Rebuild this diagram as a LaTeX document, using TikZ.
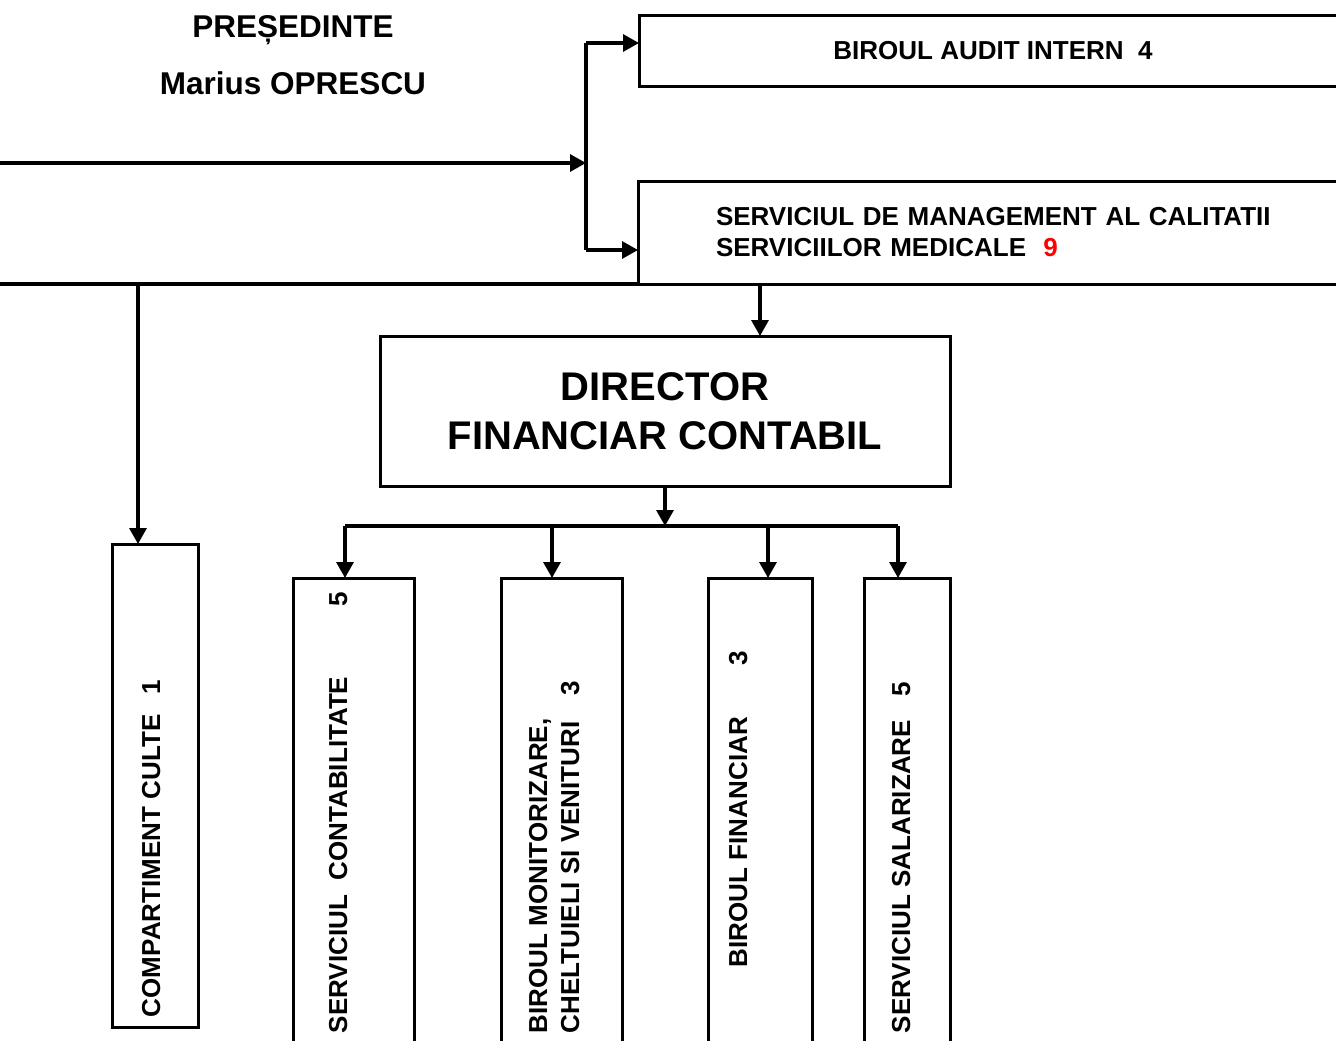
\documentclass[tikz,border=0pt]{standalone}
\usepackage{fontspec}
\setmainfont{Liberation Sans}
\usetikzlibrary{arrows.meta}
\begin{document}
\begin{tikzpicture}[x=1pt,y=-1pt,line width=3.2pt,
  box/.style={draw,line width=3pt,inner sep=0pt,outer sep=0pt,anchor=north west,font=\bfseries\fontsize{26}{31}\selectfont},
  arr/.style={-{Triangle[length=16pt,width=17pt]}},
  vlbl/.style={rotate=90,inner sep=0pt,outer sep=0pt,font=\bfseries\fontsize{26}{32}\selectfont,align=left}]
\useasboundingbox (0,0) rectangle (1336,1041);
\clip (0,0) rectangle (1336,1041);
% title
\node[font=\bfseries\fontsize{31.5}{57}\selectfont,align=center] (pres) at (293,55) {PREȘEDINTE\\Marius OPRESCU};
% top right boxes
\node[box,minimum width=708pt,minimum height=70pt] (audit) at (639,16) {BIROUL AUDIT INTERN~~4};
\node[box,minimum height=103pt,text width=620pt,inner xsep=78pt,align=left] (smc) at (638,181)
  {SERVICIUL DE MANAGEMENT AL CALITATII\\SERVICIILOR MEDICALE~~\textcolor{red}{9}};
% director
\node[box,minimum width=570pt,minimum height=150pt,align=center,font=\bfseries\fontsize{40}{49}\selectfont] (dir) at (380,336)
  {DIRECTOR\\FINANCIAR CONTABIL};
% bottom boxes
\node[box,minimum width=86pt,minimum height=483pt] (cc) at (112,544) {};
\node[box,minimum width=121pt,minimum height=500pt] (sc) at (293,578) {};
\node[box,minimum width=121pt,minimum height=500pt] (bm) at (501,578) {};
\node[box,minimum width=104pt,minimum height=500pt] (bf) at (708,578) {};
\node[box,minimum width=86pt,minimum height=500pt] (ss) at (864,578) {};
% vertical labels
\node[vlbl,anchor=base west] (cct) at (160,1017) {COMPARTIMENT CULTE\hspace{20pt}1};
\node[vlbl,anchor=base west] (sct) at (347,1033) {SERVICIUL~~CONTABILITATE\hspace{70pt}5};
\node[vlbl,anchor=north west] (bmt) at (529,1033) {BIROUL MONITORIZARE,\\CHELTUIELI SI VENITURI\hspace{26pt}3};
\node[vlbl,anchor=base west] (bft) at (747,967) {BIROUL FINANCIAR\hspace{52pt}3};
\node[vlbl,anchor=base west] (sst) at (910,1033) {SERVICIUL SALARIZARE\hspace{24pt}5};
% top connectors
\coordinate (inl) at (0,163);
\coordinate (jn) at (586,163);
\coordinate (ja) at (586,43);
\coordinate (jb) at (586,250);
\draw[arr] (inl) -- (jn);
\draw (ja) -- (jb);
\draw[arr] (ja) -- (ja -| audit.west);
\draw[arr] (jb) -- (jb -| smc.west);
% base line of upper level
\coordinate (bl) at (0,284);
\draw (bl) -- (smc.south west);
\coordinate (c1) at (138,284);
\coordinate (c2) at (760,284);
\draw[arr] (c1) -- (c1 |- cc.north);
\draw[arr] (c2) -- (c2 |- dir.north);
% director bus
\coordinate (bus) at (665,526);
\coordinate (b1) at (345,526);
\coordinate (b2) at (552,526);
\coordinate (b3) at (768,526);
\coordinate (b4) at (898,526);
\draw[arr] (dir.south) -- (bus);
\draw (b1) -- (b4);
\draw[arr] (b1) -- (b1 |- sc.north);
\draw[arr] (b2) -- (b2 |- bm.north);
\draw[arr] (b3) -- (b3 |- bf.north);
\draw[arr] (b4) -- (b4 |- ss.north);
\end{tikzpicture}
\end{document}
